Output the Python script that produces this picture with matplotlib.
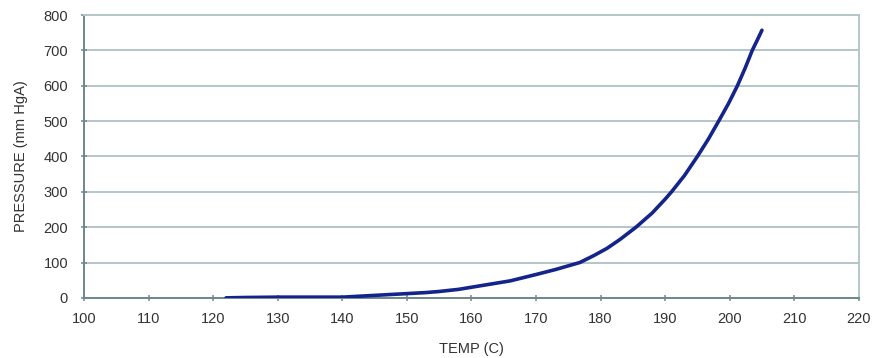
import matplotlib
matplotlib.use('Agg')
import matplotlib.pyplot as plt

# vapor pressure curve
temp_c = [122, 125, 130, 135, 140, 145, 150, 153, 155, 158, 160, 163, 166,
          170, 173, 176.8, 179, 181, 183, 185.5, 188, 190, 191, 193, 195,
          196.7, 198.3, 199.8, 201.2, 202.4, 203.5, 204.3, 205]
pressure = [0, 1, 2, 2, 2, 7, 12, 15, 18, 24, 30, 39, 48,
            66, 80, 100, 120, 140, 165, 200, 240, 279, 300, 346, 400,
            449, 500, 549, 600, 650, 700, 730, 757]

x_ticks = list(range(100, 221, 10))
y_ticks = list(range(0, 801, 100))

plt.rcParams['font.family'] = ['Liberation Sans', 'DejaVu Sans']

fig = plt.figure(figsize=(8.79, 3.58), dpi=100)
ax = fig.add_axes([0.0956, 0.168, 0.8814, 0.790])

grid_c = '#b4c6ca'
axis_c = '#6f878c'
text_c = '#333333'

ax.plot(temp_c, pressure, color='#14248a', linewidth=2.6, solid_capstyle='round', zorder=3)

ax.set_xlim(100, 220)
ax.set_ylim(0, 800)
ax.set_xticks(x_ticks)
ax.set_yticks(y_ticks)
ax.yaxis.grid(True, color=grid_c, linewidth=1.4)
ax.set_axisbelow(True)

for side in ['left', 'bottom']:
    ax.spines[side].set_color(axis_c)
    ax.spines[side].set_linewidth(1.4)
for side in ['top', 'right']:
    ax.spines[side].set_color(grid_c)
    ax.spines[side].set_linewidth(1.4)

ax.tick_params(axis='both', direction='inout', length=5, width=1.1, color=axis_c,
               labelsize=10.5, labelcolor=text_c)
ax.tick_params(axis='y', pad=9)
ax.tick_params(axis='x', pad=8)

ax.set_xlabel('TEMP (C)', fontsize=10.5, color=text_c, labelpad=11)
ax.set_ylabel('PRESSURE (mm HgA)', fontsize=10.5, color=text_c, labelpad=11)

fig.savefig('out.png', dpi=100)
